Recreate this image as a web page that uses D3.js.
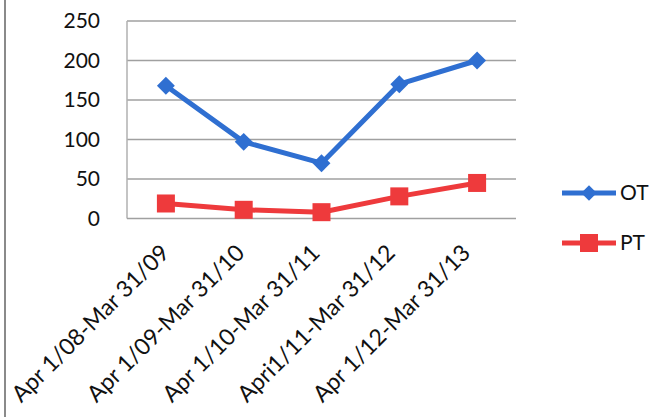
<!DOCTYPE html>
<html><head><meta charset="utf-8">
<script src="https://cdn.jsdelivr.net/npm/d3@7"></script>
<style>html,body{margin:0;padding:0;background:#fff;}svg{display:block;}</style>
</head><body>
<svg id="chart" width="651" height="417"></svg>
<script>
const categories = ["Apr 1/08-Mar 31/09","Apr 1/09-Mar 31/10","Apr 1/10-Mar 31/11","Apri1/11-Mar 31/12","Apr 1/12-Mar 31/13"];
const otValues = [168, 97, 70, 170, 200];
const ptValues = [19, 11, 8, 28, 45];
const yTicks = [0, 50, 100, 150, 200, 250];
const seriesNames = ["OT", "PT"];

(function(){
const svg = d3.select("#chart");
const font = "Lato, 'Open Sans', sans-serif";
const pLeft = 127, pRight = 516, pTop = 21, pBottom = 218.5;
const x = d3.scalePoint().domain(categories).range([pLeft, pRight]).padding(0.5);
const y = d3.scaleLinear().domain([0, 250]).range([pBottom, pTop]);
const blue = "#2f6fd1", red = "#ee3a3c";

svg.append("line").attr("x1",5).attr("x2",5).attr("y1",0).attr("y2",417)
  .attr("stroke","#8a8a8a").attr("stroke-width",2);

svg.append("g").selectAll("line").data(yTicks.filter(d=>d>0)).join("line")
  .attr("x1",pLeft).attr("x2",pRight).attr("y1",d=>y(d)).attr("y2",d=>y(d))
  .attr("stroke","#a0a0a0").attr("stroke-width",1.5);
svg.append("line").attr("x1",pLeft).attr("x2",pLeft).attr("y1",pTop).attr("y2",pBottom)
  .attr("stroke","#b0b0b0").attr("stroke-width",1.5);
svg.append("line").attr("x1",pLeft).attr("x2",pRight).attr("y1",pBottom).attr("y2",pBottom)
  .attr("stroke","#a0a0a0").attr("stroke-width",1.5);

const yAxis = d3.axisLeft(y).tickValues(yTicks).tickSize(0).tickPadding(27);
const gy = svg.append("g").attr("transform",`translate(${pLeft},0)`).call(yAxis);
gy.select(".domain").remove();
gy.selectAll("text").attr("font-family",font).attr("font-size",21).attr("fill","#111");

const gx = svg.append("g");
gx.selectAll("text").data(categories).join("text")
  .attr("transform",(d,i)=>`translate(${x(d)-1-i*2.5},${pBottom+30}) rotate(-45)`)
  .attr("text-anchor","end").attr("dy","0.35em")
  .attr("font-family",font).attr("font-size",23).attr("fill","#111")
  .text(d=>d);

const line = d3.line().x((d,i)=>x(categories[i])).y(d=>y(d));
svg.append("path").datum(otValues).attr("d",line).attr("fill","none")
  .attr("stroke",blue).attr("stroke-width",5).attr("stroke-linejoin","round");
svg.append("path").datum(ptValues).attr("d",line).attr("fill","none")
  .attr("stroke",red).attr("stroke-width",5).attr("stroke-linejoin","round");

svg.append("g").selectAll("path").data(otValues).join("path")
  .attr("d", d3.symbol().type(d3.symbolSquare).size(160))
  .attr("transform",(d,i)=>`translate(${x(categories[i])},${y(d)}) rotate(45)`)
  .attr("fill",blue);
svg.append("g").selectAll("rect").data(ptValues).join("rect")
  .attr("x",(d,i)=>x(categories[i])-9).attr("y",d=>y(d)-9)
  .attr("width",18).attr("height",18).attr("fill",red);

const leg = [{n:seriesNames[0],c:blue,yy:193,m:"d"},{n:seriesNames[1],c:red,yy:243,m:"s"}];
const lg = svg.append("g");
leg.forEach(l=>{
  lg.append("line").attr("x1",562).attr("x2",616).attr("y1",l.yy).attr("y2",l.yy)
    .attr("stroke",l.c).attr("stroke-width",5);
  if(l.m==="d"){
    lg.append("path").attr("d",d3.symbol().type(d3.symbolSquare).size(120))
      .attr("transform",`translate(589,${l.yy}) rotate(45)`).attr("fill",l.c);
  } else {
    lg.append("rect").attr("x",580).attr("y",l.yy-9).attr("width",18).attr("height",18).attr("fill",l.c);
  }
  lg.append("text").attr("x",620).attr("y",l.yy).attr("dy","0.35em")
    .attr("font-family",font).attr("font-size",21).attr("fill","#111").text(l.n);
});
})();
</script>
</body></html>
